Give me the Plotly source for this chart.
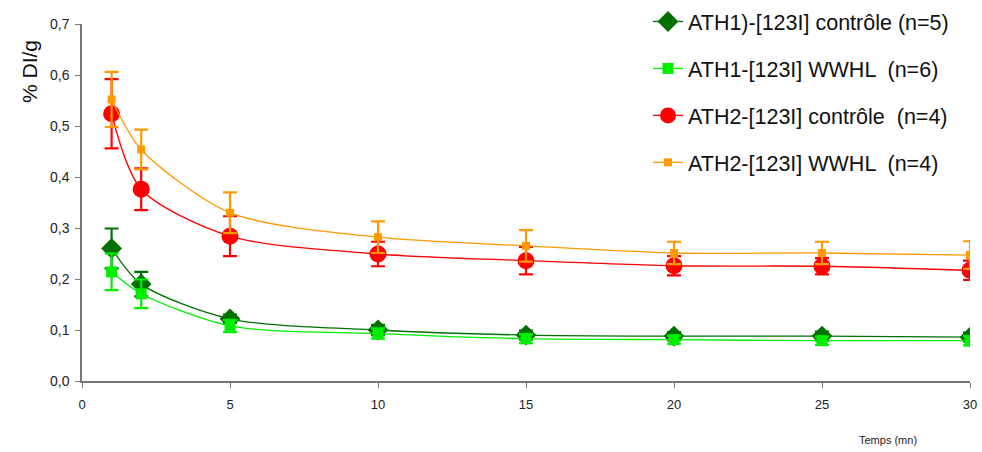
import plotly.graph_objects as go

temps = [1, 2, 5, 10, 15, 20, 25, 30]

ath1_ctrl = [0.260, 0.190, 0.122, 0.100, 0.090, 0.088, 0.088, 0.086]
ath1_ctrl_err = [0.039, 0.024, 0.008, 0.010, 0.009, 0.008, 0.009, 0.009]

ath1_wwhl = [0.214, 0.171, 0.108, 0.093, 0.083, 0.081, 0.079, 0.079]
ath1_wwhl_err = [0.036, 0.028, 0.012, 0.010, 0.009, 0.008, 0.008, 0.009]

ath2_ctrl = [0.524, 0.376, 0.284, 0.249, 0.236, 0.226, 0.225, 0.217]
ath2_ctrl_err = [0.068, 0.041, 0.039, 0.024, 0.027, 0.019, 0.016, 0.019]

ath2_wwhl = [0.552, 0.454, 0.330, 0.282, 0.265, 0.251, 0.251, 0.247]
ath2_wwhl_err = [0.054, 0.039, 0.040, 0.031, 0.031, 0.022, 0.022, 0.027]

names = ["ATH1)-[123I] contrôle (n=5)", "ATH1-[123I] WWHL  (n=6)",
         "ATH2-[123I] contrôle  (n=4)", "ATH2-[123I] WWHL  (n=4)"]

x_ticks = [0, 5, 10, 15, 20, 25, 30]
y_ticks = [0.0, 0.1, 0.2, 0.3, 0.4, 0.5, 0.6, 0.7]

series = [
    (ath1_ctrl, ath1_ctrl_err, "#007000", "diamond", 16),
    (ath1_wwhl, ath1_wwhl_err, "#00ee00", "square", 11),
    (ath2_ctrl, ath2_ctrl_err, "#ff0000", "circle", 17),
    (ath2_wwhl, ath2_wwhl_err, "#ff9900", "square", 8),
]

# body margin is removed by post_script: figure coords = page coords
W, H = 982, 452
l, r, t, b = 82, 12, 24, 71
pw, ph = W - l - r, H - t - b


def px_x(page_x):
    return (page_x - l) / pw


def px_y(page_y):
    return (H - b - page_y) / ph


fig = go.Figure()
for i, (vals, errs, col, sym, sz) in enumerate(series):
    fig.add_trace(go.Scatter(
        x=temps, y=vals, name=names[i], legendgroup=f"g{i}",
        mode="lines+markers",
        line=dict(color=col, width=1.3, shape="spline", smoothing=0.8),
        marker=dict(symbol=sym, size=sz, color=col, line=dict(width=0)),
        error_y=dict(type="data", array=errs, visible=True, color=col,
                     thickness=2.2, width=7),
    ))

fig.update_layout(
    width=W, height=H,
    margin=dict(l=l, r=r, t=t, b=b, autoexpand=False),
    paper_bgcolor="white", plot_bgcolor="white",
    separators=",.",
    font=dict(family="Liberation Sans, Arial, sans-serif", color="#222"),
    showlegend=True,
    legend=dict(x=px_x(648), xanchor="left", y=px_y(1), yanchor="top",
                font=dict(size=21.5, color="#111"),
                tracegroupgap=16, bgcolor="rgba(0,0,0,0)"),
    xaxis=dict(range=[0, 30], tickvals=x_ticks, showgrid=False, zeroline=False,
               automargin=False,
               showline=True, linecolor="#777", linewidth=1.5,
               ticks="outside", ticklen=5, tickcolor="#777",
               tickfont=dict(size=13, color="#222"), ticklabelstandoff=6),
    yaxis=dict(range=[0, 0.7], tickvals=y_ticks, tickformat=".1f",
               automargin=False,
               showgrid=False, zeroline=False,
               showline=True, linecolor="#777", linewidth=1.5,
               ticks="outside", ticklen=5, tickcolor="#777",
               tickfont=dict(size=14, color="#222"), ticklabelstandoff=3),
    annotations=[
        dict(text="% DI/g", textangle=-90, xref="paper", yref="paper",
             x=px_x(30), y=px_y(72),
             xanchor="center", yanchor="middle", showarrow=False,
             font=dict(size=21, color="#111")),
        dict(text="Temps (mn)", xref="paper", yref="paper",
             x=px_x(888), y=px_y(440),
             xanchor="center", yanchor="middle", showarrow=False,
             font=dict(size=11, color="#222")),
    ],
)

fig.write_html(
    "out.html",
    config={"displayModeBar": False},
    post_script="document.body.style.margin='0';"
                "document.body.style.overflow='hidden';"
                "document.documentElement.style.overflow='hidden';",
)
